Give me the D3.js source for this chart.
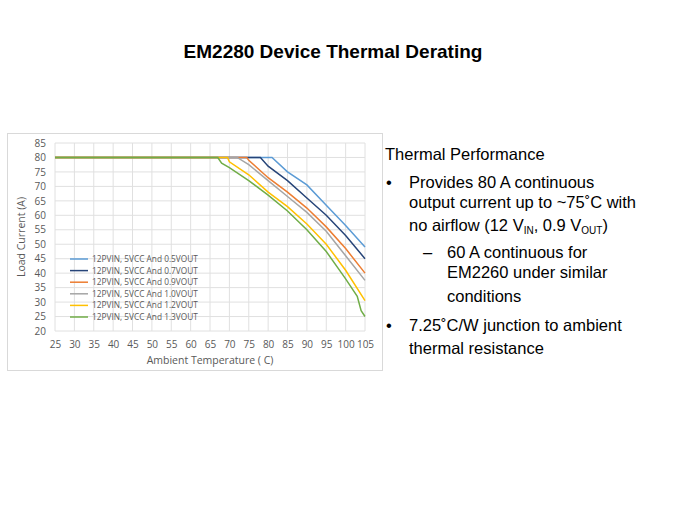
<!DOCTYPE html>
<html><head><meta charset="utf-8">
<script src="https://cdn.jsdelivr.net/npm/d3@7"></script>
<style>
body{margin:0;background:#fff;font-family:"Liberation Sans",Arial,sans-serif;}
.axis text{font-family:"Open Sans",sans-serif;font-size:10px;fill:#595959;}
.axis path,.axis line{display:none;}
</style></head><body>
<svg id="c" width="675" height="506"></svg>
<script>
const seriesNames = ["12PVIN, 5VCC And 0.5VOUT","12PVIN, 5VCC And 0.7VOUT","12PVIN, 5VCC And 0.9VOUT",
  "12PVIN, 5VCC And 1.0VOUT","12PVIN, 5VCC And 1.2VOUT","12PVIN, 5VCC And 1.3VOUT"];
const colors = ["#5b9bd5","#264478","#ed7d31","#a5a5a5","#ffc000","#70ad47"];
const s05 = [[25,80],[81,80],[85,75],[90,70.5],[95,63.5],[100,56.5],[105,49]];
const s07 = [[25,80],[78,80],[80,77],[85,72],[90,66],[95,60],[100,53],[105,45]];
const s09 = [[25,80],[74.5,80],[75,79],[80,73],[85,68],[90,62.5],[95,56],[100,48.5],[105,40]];
const s10 = [[25,80],[72,80],[75,77.5],[80,72],[85,66.5],[90,61],[95,54.5],[100,46],[105,37.5]];
const s12 = [[25,80],[69.5,80],[70,78.5],[75,74],[80,68],[85,63],[90,57],[95,50],[100,41],[105,30.5]];
const s13 = [[25,80],[67,80],[68,78],[70,76.5],[75,72],[80,67],[85,61.5],[90,55],[95,47.5],[100,38],[103,32],[104,27],[105,25]];
const allSeries = [s05,s07,s09,s10,s12,s13];
const xTicks = d3.range(25,106,5);
const yTicks = d3.range(20,86,5);

const svg = d3.select("#c");
svg.append("text").attr("x",333).attr("y",58).attr("text-anchor","middle")
  .attr("font-weight","bold").attr("font-size",19).text("EM2280 Device Thermal Derating");

svg.append("rect").attr("x",7.5).attr("y",133.5).attr("width",375).attr("height",237)
  .attr("fill","#fff").attr("stroke","#d9d9d9");

const x = d3.scaleLinear().domain([25,105]).range([55,365]);
const y = d3.scaleLinear().domain([20,85]).range([331,143]);

svg.append("g").selectAll("line").data(xTicks).join("line")
  .attr("x1",d=>x(d)).attr("x2",d=>x(d)).attr("y1",y(20)).attr("y2",y(85)).attr("stroke","#e0e0e0");
svg.append("g").selectAll("line").data(yTicks).join("line")
  .attr("x1",x(25)).attr("x2",x(105)).attr("y1",d=>y(d)).attr("y2",d=>y(d)).attr("stroke","#e0e0e0");

svg.append("g").attr("class","axis").attr("transform",`translate(0,${y(20)+2})`)
  .call(d3.axisBottom(x).tickValues(xTicks).tickSize(0).tickPadding(8));
svg.append("g").attr("class","axis").attr("transform",`translate(${x(25)-3},0)`)
  .call(d3.axisLeft(y).tickValues(yTicks).tickSize(0).tickPadding(6));

svg.append("text").attr("x",210).attr("y",364).attr("text-anchor","middle")
  .attr("font-family","Open Sans").attr("font-size",10.5).attr("fill","#595959").text("Ambient Temperature ( C)");
svg.append("text").attr("transform","rotate(-90)").attr("x",-237).attr("y",25).attr("text-anchor","middle")
  .attr("font-family","Open Sans").attr("font-size",10.5).attr("fill","#595959").text("Load Current (A)");

const line = d3.line().x(d=>x(d[0])).y(d=>y(d[1])).curve(d3.curveLinear);
svg.append("g").selectAll("path").data(allSeries).join("path")
  .attr("d",d=>line(d)).attr("fill","none").attr("stroke",(d,i)=>colors[i]).attr("stroke-width",1.5);

const lg = svg.append("g").selectAll("g").data(seriesNames).join("g")
  .attr("transform",(d,i)=>`translate(70,${259+i*11.6})`);
lg.append("line").attr("x1",0).attr("x2",18).attr("stroke",(d,i)=>colors[i]).attr("stroke-width",1.5);
lg.append("text").attr("x",22).attr("y",3).attr("font-family","Open Sans").attr("font-size",8.3)
  .attr("fill","#595959").text(d=>d);

// right text
const t = svg.append("g").attr("font-size",16.5).attr("fill","#000");
t.append("text").attr("x",385).attr("y",160).text("Thermal Performance");
t.append("text").attr("x",386).attr("y",188).text("•");
t.append("text").attr("x",409).attr("y",188).text("Provides 80 A continuous");
t.append("text").attr("x",409).attr("y",208).text("output current up to ~75˚C with");
const l3 = t.append("text").attr("x",409).attr("y",231);
l3.append("tspan").text("no airflow (12 V");
l3.append("tspan").attr("font-size",10).attr("dy",3).text("IN");
l3.append("tspan").attr("dy",-3).text(", 0.9 V");
l3.append("tspan").attr("font-size",10).attr("dy",3).text("OUT");
l3.append("tspan").attr("dy",-3).text(")");
t.append("text").attr("x",423).attr("y",258).text("–");
t.append("text").attr("x",447).attr("y",258).text("60 A continuous for");
t.append("text").attr("x",447).attr("y",278).text("EM2260 under similar");
t.append("text").attr("x",447).attr("y",302).text("conditions");
t.append("text").attr("x",386).attr("y",331).text("•");
t.append("text").attr("x",409).attr("y",331).text("7.25˚C/W junction to ambient");
t.append("text").attr("x",409).attr("y",354).text("thermal resistance");
</script></body></html>
